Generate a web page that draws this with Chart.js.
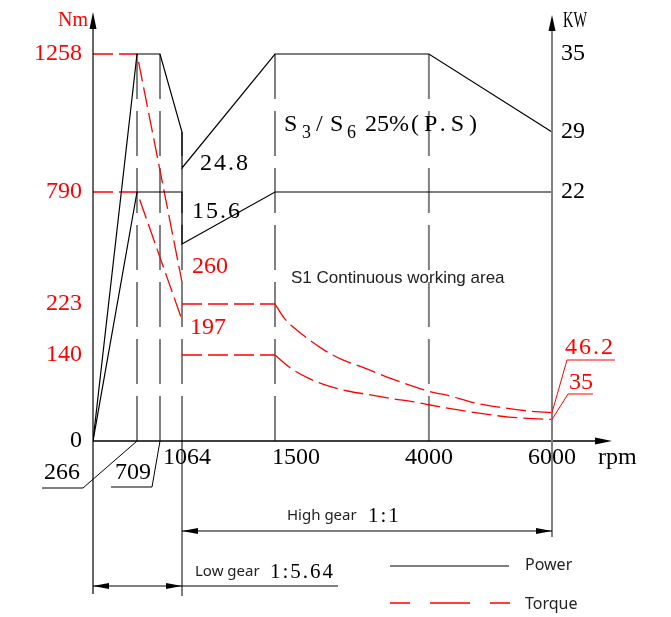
<!DOCTYPE html>
<html>
<head>
<meta charset="utf-8">
<title>Motor torque / power characteristic</title>
<script src="https://cdn.jsdelivr.net/npm/chart.js@4.4.1/dist/chart.umd.min.js"></script>
<style>
  html, body { margin: 0; padding: 0; background: #fff; }
</style>
</head>
<body>
<canvas id="motorChart" width="671" height="617"></canvas>
<script>
// axis tick values
const RPM_TICKS = [0, 266, 709, 1064, 1500, 4000, 6000];
const TORQUE_TICKS = [0, 140, 223, 790, 1258];
const POWER_TICKS = [22, 29, 35];

// S3/S6 25% power, kW
const P_S3_RPM = [0, 266, 709, 1064, 1064, 1500, 4000, 6000];
const P_S3_KW = [0, 35, 35, 29, 24.8, 35, 35, 29];
// S1 continuous power, kW
const P_S1_RPM = [0, 266, 1064, 1064, 1500, 6000];
const P_S1_KW = [0, 22, 22, 15.6, 22, 22];

// low gear torque, Nm
const T_PEAK_RPM = [0, 266, 1064];
const T_PEAK_NM = [1258, 1258, 260];
const T_CONT_RPM = [0, 266, 1064];
const T_CONT_NM = [790, 790, 197];

// high gear torque, Nm
const T_S3_RPM = [1064, 1500, 1650, 1950, 2300, 2600, 2950, 3250, 3600, 4000, 4350, 4700, 5150, 5600, 6000];
const T_S3_NM = [223, 223, 200, 173, 148, 132, 119, 107, 94, 81, 73, 63, 55, 49, 46.2];
const T_S1_RPM = [1064, 1500, 1750, 2050, 2350, 2700, 3050, 3400, 3800, 4000, 4450, 4900, 5300, 6000];
const T_S1_NM = [140, 140, 119, 102, 90, 81, 75, 69, 63, 59, 51, 44, 39, 35];

// the axes are not to scale: each one is linear between these stops
// (value -> fraction of the axis length)
const AXIS_STOPS = {
  x: { values: [0, 266, 709, 1064, 1500, 6000, 7000], at: [0, 0.0848, 0.1291, 0.1715, 0.3507, 0.8844, 1] },
  y: { values: [0, 223, 260, 790, 1258, 1400], at: [0, 0.3193, 0.3706, 0.5804, 0.9021, 1] },
  kw: { values: [0, 15.6, 22, 29, 35, 38], at: [0, 0.4592, 0.5804, 0.7203, 0.9021, 1] }
};

class BrokenScale extends Chart.LinearScale {
  static id = 'broken';
  static defaults = { ticks: { callback: Chart.Ticks.formatters.numeric } };

  toDecimal(v) {
    const { values, at } = AXIS_STOPS[this.id];
    let i = 1;
    while (i < values.length - 1 && v > values[i]) i++;
    const t = (v - values[i - 1]) / (values[i] - values[i - 1]);
    return at[i - 1] + t * (at[i] - at[i - 1]);
  }
  getPixelForValue(v) {
    if (v === null || isNaN(v)) return NaN;
    return this.getPixelForDecimal(this.toDecimal(v));
  }
  getValueForPixel(p) {
    const { values, at } = AXIS_STOPS[this.id];
    const d = this.getDecimalForPixel(p);
    let i = 1;
    while (i < at.length - 1 && d > at[i]) i++;
    const t = (d - at[i - 1]) / (at[i] - at[i - 1]);
    return values[i - 1] + t * (values[i] - values[i - 1]);
  }
}
Chart.register(BrokenScale);

const pts = (xs, ys) => xs.map((v, i) => ({ x: v, y: ys[i] }));
const RED = '#ff0000';
const SERIF = '"Liberation Serif", "DejaVu Serif", serif';
const SANS = '"Noto Sans", "Liberation Sans", sans-serif';

const power = data => ({ data, yAxisID: 'kw', borderColor: '#000', borderWidth: 1.2 });
const torque = (data, extra) => Object.assign({ data, yAxisID: 'y', borderColor: RED, borderWidth: 1.3, borderDash: [20, 6] }, extra);
const guide = (rpm, axis, top) => ({
  data: [{ x: rpm, y: 0 }, { x: rpm, y: top }], yAxisID: axis,
  borderColor: '#808080', borderWidth: 2, borderDash: [45, 12]
});

const s3Torque = pts(T_S3_RPM, T_S3_NM);
const s1Torque = pts(T_S1_RPM, T_S1_NM);

const datasets = [
  power(pts(P_S3_RPM, P_S3_KW)),
  power(pts(P_S1_RPM, P_S1_KW)),
  torque(pts(T_PEAK_RPM, T_PEAK_NM)),
  torque(pts(T_CONT_RPM, T_CONT_NM)),
  torque(s3Torque.slice(0, 2)),
  torque(s3Torque.slice(1), { cubicInterpolationMode: 'monotone' }),
  torque(s1Torque.slice(0, 2)),
  torque(s1Torque.slice(1), { cubicInterpolationMode: 'monotone' }),
  // dashed speed guides, drawn underneath
  guide(266, 'y', 1258),
  guide(709, 'y', 1258),
  guide(1064, 'kw', 29),
  guide(1500, 'kw', 35),
  guide(4000, 'kw', 35)
];

// x labels that sit off their guide line
const LABEL_NUDGE = { 1064: 5, 1500: 21 };

const decor = {
  id: 'decor',
  afterDraw(chart) {
    const { ctx, chartArea } = chart;
    const { x, y, kw } = chart.scales;
    const X = v => x.getPixelForValue(v);
    const x0 = X(0), x1064 = X(1064), x6000 = X(6000);
    const y0 = y.getPixelForValue(0);

    const line = (pts, color, width, dash) => {
      ctx.beginPath();
      ctx.strokeStyle = color;
      ctx.lineWidth = width;
      ctx.setLineDash(dash || []);
      pts.forEach(([px, py], i) => i ? ctx.lineTo(px, py) : ctx.moveTo(px, py));
      ctx.stroke();
      ctx.setLineDash([]);
    };
    const arrow = (tx, ty, dx, dy, len, half) => {
      const bx = tx - dx * len, by = ty - dy * len;
      ctx.beginPath();
      ctx.fillStyle = '#000';
      ctx.moveTo(tx, ty);
      ctx.lineTo(bx - dy * half, by + dx * half);
      ctx.lineTo(bx + dy * half, by - dx * half);
      ctx.closePath();
      ctx.fill();
    };
    const text = (str, px, py, font, color, align, spacing) => {
      ctx.font = font;
      ctx.fillStyle = color;
      ctx.textAlign = align || 'left';
      ctx.textBaseline = 'middle';
      ctx.letterSpacing = spacing || '0px';
      ctx.fillText(str, px, py);
      ctx.letterSpacing = '0px';
    };

    ctx.save();

    // axes
    line([[x0, 26], [x0, 594]], '#000', 1.2);
    arrow(x0, 12, 0, -1, 17, 3.5);
    line([[x0, y0], [chartArea.right - 14, y0]], '#000', 1.5);
    arrow(chartArea.right, y0, 1, 0, 17, 3.5);
    line([[x6000, 28], [x6000, 537]], '#808080', 2);
    arrow(x6000, 15, 0, -1, 16, 3.5);
    line([[x1064, y0], [x1064, 596]], '#000', 1);

    // gear ranges
    line([[x1064, 531], [x6000, 531]], '#000', 1);
    arrow(x1064, 531, -1, 0, 16, 3);
    arrow(x6000, 531, 1, 0, 16, 3);
    line([[x0, 586], [338, 586]], '#000', 1);
    arrow(x0, 586, -1, 0, 16, 3);
    arrow(x1064, 586, 1, 0, 16, 3);
    text('High gear', 287, 516, '15px ' + SANS, '#222');
    text('1:1', 368, 516, '21px ' + SERIF, '#000', 'left', '2px');
    text('Low gear', 195, 572, '15px ' + SANS, '#222');
    text('1:5.64', 270, 572, '21px ' + SERIF, '#000', 'left', '2px');

    // axis titles and tick labels not drawn by the scales
    text('Nm', 88, 21, '20px ' + SERIF, RED, 'right');
    ctx.save();
    ctx.translate(563, 21);
    ctx.scale(0.6, 1);
    text('KW', 0, 0, '24px ' + SERIF, '#000');
    ctx.restore();
    POWER_TICKS.forEach(v => text(String(v), x6000 + 9, kw.getPixelForValue(v), '24px ' + SERIF, '#000'));
    RPM_TICKS.filter(v => v >= 1064).forEach(v =>
      text(String(v), X(v) + (LABEL_NUDGE[v] || 0), 458, '24px ' + SERIF, '#000', 'center'));
    text('rpm', 598, 458, '24px ' + SERIF, '#000');

    // low speed labels on leaders
    line([[42, 488], [83, 488], [X(266), y0]], '#000', 1);
    text('266', 62, 473, '24px ' + SERIF, '#000', 'center');
    line([[111, 487], [152, 487], [X(709), y0]], '#000', 1);
    text('709', 133, 473, '24px ' + SERIF, '#000', 'center');

    // values at the gear change
    text('24.8', 200, 164, '24px ' + SERIF, '#000', 'left', '2px');
    text('15.6', 192, 212, '24px ' + SERIF, '#000', 'left', '2px');
    text('260', 192, 267, '24px ' + SERIF, RED);
    text('197', 190, 328, '24px ' + SERIF, RED);

    // torque at top speed
    line([[x6000, y.getPixelForValue(46.2)], [567, 360], [615, 360]], RED, 1);
    text('46.2', 565, 348, '24px ' + SERIF, RED, 'left', '2px');
    line([[x6000, y.getPixelForValue(35)], [568, 394], [593, 394]], RED, 1);
    text('35', 569, 383, '24px ' + SERIF, RED);

    // duty labels
    const main = '24px ' + SERIF, sub = '18px ' + SERIF;
    [['S', 284, main, 125], ['3', 302, sub, 133], ['/', 316, main, 125], ['S', 330, main, 125],
     ['6', 347, sub, 133], ['25%', 365, main, 125]].forEach(([s, px, f, py]) => text(s, px, py, f, '#000'));
    text('(P.S)', 411, 125, main, '#000', 'left', '5px');
    text('S1 Continuous working area', 291, 278, '17px "Liberation Sans", Arial, sans-serif', '#222');

    // legend
    line([[390, 566], [509, 566]], '#555', 1.5);
    text('Power', 525, 565, '16px ' + SANS, '#222');
    ctx.lineDashOffset = 20;
    line([[390, 603], [510, 603]], RED, 1.3, [40, 20]);
    ctx.lineDashOffset = 0;
    text('Torque', 525, 604, '16px ' + SANS, '#222');

    ctx.restore();
  }
};

new Chart(document.getElementById('motorChart'), {
  type: 'line',
  data: { datasets },
  plugins: [decor],
  options: {
    responsive: false,
    animation: false,
    events: [],
    layout: { padding: { top: 12, right: 59, bottom: 176, left: 0 } },
    plugins: { legend: { display: false }, tooltip: { enabled: false } },
    elements: { point: { radius: 0 }, line: { tension: 0 } },
    scales: {
      x: { type: 'broken', min: 0, max: 7000, display: false },
      y: {
        type: 'broken', position: 'left', min: 0, max: 1400,
        // tick marks are hidden; tickLength only sets the label gap
        grid: { display: false, drawTicks: true, tickLength: 11 },
        border: { display: false },
        afterBuildTicks: s => { s.ticks = TORQUE_TICKS.map(value => ({ value })); },
        afterFit: s => { s.width = 93; },
        ticks: {
          padding: 0,
          font: { family: 'Liberation Serif', size: 24, lineHeight: 1 },
          color: c => (c.tick && c.tick.value === 0 ? '#000' : RED),
          callback: v => String(v)
        }
      },
      kw: { type: 'broken', position: 'right', min: 0, max: 38, display: false }
    }
  }
});
</script>
</body>
</html>
